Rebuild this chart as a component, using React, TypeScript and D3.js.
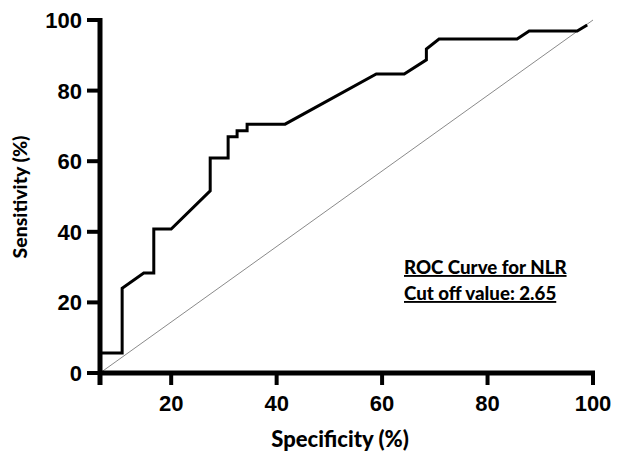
import { useRef, useEffect } from "react";
import * as d3 from "d3";

// ROC curve (specificity axis as drawn, sensitivity in %)
const specificity = [6.5, 6.5, 10.7, 10.7, 14.8, 16.7, 16.7, 20, 27.4, 27.4, 30.8, 30.8, 32.5, 32.5, 34.4, 34.4, 41.6, 58.9, 64.2, 68.4, 68.4, 70.8, 85.6, 87.9, 97, 98.9];
const sensitivity = [0, 5.7, 5.7, 24, 28.3, 28.3, 40.8, 40.8, 51.6, 60.9, 60.9, 66.9, 66.9, 68.6, 68.6, 70.5, 70.5, 84.7, 84.7, 88.7, 91.8, 94.6, 94.6, 96.9, 96.9, 98.6];

const xTicks = [20, 40, 60, 80, 100];
const yTicks = [0, 20, 40, 60, 80, 100];
const xDomain = [6.5, 100];
const annotation = ["ROC Curve for NLR", "Cut off value: 2.65"];

const W = 619;
const H = 454;

const RocChart = () => {
    const ref = useRef<SVGSVGElement>(null);

    useEffect(() => {
        const svg = d3.select(ref.current);
        svg.selectAll("*").remove();

        const x = d3.scaleLinear().domain(xDomain).range([100, 593]);
        const y = d3.scaleLinear().domain([0, 100]).range([373, 20]);

        // reference diagonal
        svg.append("line")
            .attr("x1", x(xDomain[0])).attr("y1", y(0))
            .attr("x2", x(100)).attr("y2", y(100))
            .attr("stroke", "#8a8a8a")
            .attr("stroke-width", 1);

        // roc curve
        const pts = specificity.map((s, i) => [s, sensitivity[i]] as [number, number]);
        const line = d3.line<[number, number]>()
            .x(d => x(d[0]))
            .y(d => y(d[1]));
        svg.append("path")
            .attr("d", line(pts))
            .attr("fill", "none")
            .attr("stroke", "#000")
            .attr("stroke-width", 3)
            .attr("stroke-linejoin", "miter");

        // ---- x axis
        const gx = svg.append("g");
        gx.append("line")
            .attr("x1", x(xDomain[0]) - 2).attr("x2", x(100) + 2)
            .attr("y1", y(0)).attr("y2", y(0))
            .attr("stroke", "#000").attr("stroke-width", 5);
        gx.selectAll("line.tick")
            .data([xDomain[0], ...xTicks])
            .join("line")
            .attr("class", "tick")
            .attr("x1", d => x(d)).attr("x2", d => x(d))
            .attr("y1", y(0)).attr("y2", y(0) + 12)
            .attr("stroke", "#000").attr("stroke-width", 4);
        gx.selectAll("text")
            .data(xTicks)
            .join("text")
            .attr("x", d => x(d))
            .attr("y", 411)
            .attr("text-anchor", "middle")
            .attr("font-family", "Liberation Sans, Arial, sans-serif")
            .attr("font-weight", "bold")
            .attr("font-size", 22)
            .text(d => d);

        // ---- y axis
        const gy = svg.append("g");
        gy.append("line")
            .attr("x1", 100).attr("x2", 100)
            .attr("y1", y(100) - 2).attr("y2", y(0) + 12)
            .attr("stroke", "#000").attr("stroke-width", 5);
        gy.selectAll("line.tick")
            .data(yTicks)
            .join("line")
            .attr("class", "tick")
            .attr("x1", 87).attr("x2", 100)
            .attr("y1", d => y(d)).attr("y2", d => y(d))
            .attr("stroke", "#000").attr("stroke-width", 4);
        gy.selectAll("text")
            .data(yTicks)
            .join("text")
            .attr("x", 82)
            .attr("y", d => y(d) + 8)
            .attr("text-anchor", "end")
            .attr("font-family", "Liberation Sans, Arial, sans-serif")
            .attr("font-weight", "bold")
            .attr("font-size", 22)
            .text(d => d);

        // axis titles
        svg.append("text")
            .attr("x", 340).attr("y", 447)
            .attr("text-anchor", "middle")
            .attr("font-family", "Lato, sans-serif")
            .attr("font-weight", 900)
            .attr("font-size", 22)
            .text("Specificity (%)");
        svg.append("text")
            .attr("transform", "translate(27,197) rotate(-90)")
            .attr("text-anchor", "middle")
            .attr("font-family", "Lato, sans-serif")
            .attr("font-weight", 900)
            .attr("font-size", 19.5)
            .text("Sensitivity (%)");

        // annotation
        svg.selectAll("text.note")
            .data(annotation)
            .join("text")
            .attr("class", "note")
            .attr("x", 404)
            .attr("y", (d, i) => 274 + i * 26)
            .attr("font-family", "Lato, sans-serif")
            .attr("font-weight", 900)
            .attr("font-size", 18.7)
            .attr("text-decoration", "underline")
            .text(d => d);
    }, []);

    return <svg ref={ref} width={W} height={H} style={{ position: "absolute", left: 0, top: 0, background: "#fff" }} />;
};

export default function App() {
    return <RocChart />;
}
